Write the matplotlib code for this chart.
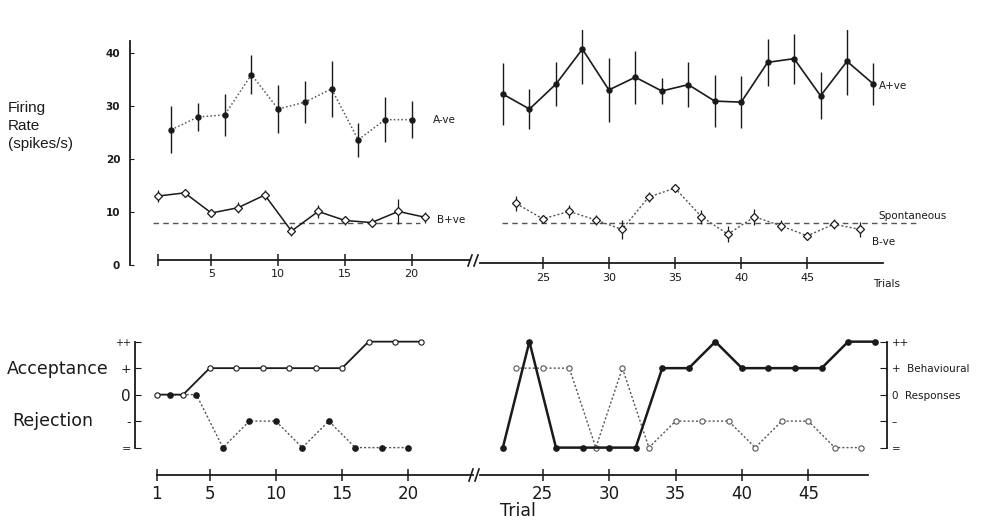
import matplotlib
matplotlib.use("Agg")
import matplotlib.pyplot as plt
from matplotlib.lines import Line2D

# ---------------- data ----------------
# Top: firing rate (spikes/s)
a_neg_trials = [2, 4, 6, 8, 10, 12, 14, 16, 18, 20]
a_neg_rate = [25.5, 27.9, 28.3, 35.9, 29.4, 30.7, 33.2, 23.6, 27.4, 27.4]
a_neg_err = [4.4, 2.7, 4.0, 3.6, 4.5, 4.0, 5.3, 3.2, 4.2, 3.5]

b_pos_trials = [1, 3, 5, 7, 9, 11, 13, 15, 17, 19, 21]
b_pos_rate = [13.0, 13.6, 9.8, 10.8, 13.2, 6.4, 10.1, 8.4, 8.0, 10.1, 9.0]
b_pos_err = [1.2, 0.8, 0.8, 1.0, 1.0, 1.0, 1.2, 0.8, 0.8, 2.3, 1.0]

a_pos_trials = [22, 24, 26, 28, 30, 32, 34, 36, 38, 40, 42, 44, 46, 48, 50]
a_pos_rate = [32.2, 29.4, 34.1, 40.7, 33.0, 35.4, 32.8, 34.0, 30.9, 30.7,
              38.2, 38.9, 31.9, 38.4, 34.1]
a_pos_err = [5.8, 3.8, 4.1, 6.6, 6.1, 5.0, 2.4, 4.3, 4.9, 4.9, 4.4, 4.7, 4.4, 6.3, 4.0]

b_neg_trials = [23, 25, 27, 29, 31, 33, 35, 37, 39, 41, 43, 45, 47, 49]
b_neg_rate = [11.6, 8.7, 10.1, 8.5, 6.7, 12.8, 14.5, 9.1, 5.8, 9.1, 7.4, 5.5, 7.7, 6.7]
b_neg_err = [1.5, 0.8, 1.2, 1.0, 1.8, 1.0, 0.8, 1.3, 1.5, 1.5, 1.0, 0.8, 1.0, 1.5]

spontaneous_rate = 8.0

# Bottom: behavioural responses (++ = 2, + = 1, 0 = 0, - = -1, = = -2)
beh_levels = [-2, -1, 0, 1, 2]
beh_labels = ["=", "-", "0", "+", "++"]
beh_b_pos = [0, 0, 1, 1, 1, 1, 1, 1, 2, 2, 2]            # odd trials 1..21
beh_a_neg = [0, 0, -2, -1, -1, -2, -1, -2, -2, -2]        # even trials 2..20
beh_a_pos = [-2, 2, -2, -2, -2, -2, 1, 1, 2, 1, 1, 1, 1, 2, 2]  # even 22..50
beh_b_neg = [1, 1, 1, -2, 1, -2, -1, -1, -1, -2, -1, -1, -2, -2]  # odd 23..49

left_ticks = [1, 5, 10, 15, 20]
right_ticks = [25, 30, 35, 40, 45]
rate_ticks = [0, 10, 20, 30, 40]

# ---------------- figure ----------------
W, H = 982, 524
fig = plt.figure(figsize=(W / 100, H / 100), dpi=100)
fig.patch.set_facecolor("white")
INK = "#1a1a1a"
GREY = "#555555"


def box(x0, y0, x1, y1):
    return [x0 / W, 1 - y1 / H, (x1 - x0) / W, (y1 - y0) / H]


def strip(ax):
    for s in ax.spines.values():
        s.set_visible(False)
    ax.set_facecolor("none")


def fig_line(x0, y0, x1, y1, lw=1.2):
    fig.add_artist(Line2D([x0 / W, x1 / W], [1 - y0 / H, 1 - y1 / H],
                          transform=fig.transFigure, color=INK, lw=lw))


# ---- top left ----
ax1 = fig.add_axes(box(125, 30, 480, 270))
strip(ax1)
ax1.set_xlim(-1.47, 25.12)
ax1.set_ylim(-0.94, 44.3)
ax1.spines["left"].set_visible(True)
ax1.spines["left"].set_position(("data", -1.1))
ax1.spines["left"].set_bounds(0, 42.2)
ax1.spines["bottom"].set_visible(True)
ax1.spines["bottom"].set_position(("data", 1.0))
ax1.spines["bottom"].set_bounds(1, 24.4)
for s in ("left", "bottom"):
    ax1.spines[s].set_color(INK)
    ax1.spines[s].set_linewidth(1.3)
ax1.set_yticks(rate_ticks)
ax1.set_yticklabels([str(v) for v in rate_ticks], fontsize=7.5, fontweight="bold", color=INK)
ax1.tick_params(axis="y", direction="in", length=3, pad=7, color=INK)
ax1.set_xticks(left_ticks)
ax1.set_xticklabels([""] + [str(v) for v in left_ticks[1:]], fontsize=8, color=INK)
ax1.tick_params(axis="x", direction="inout", length=8, pad=3, color=INK, width=1.1)

ax1.errorbar(a_neg_trials, a_neg_rate, yerr=a_neg_err, fmt="o", ms=3.6, color=INK,
             ecolor=INK, elinewidth=1.0, capsize=0, zorder=3)
ax1.plot(a_neg_trials, a_neg_rate, ls=(0, (1, 1.5)), color=GREY, lw=1.1, zorder=2)
ax1.errorbar(b_pos_trials, b_pos_rate, yerr=b_pos_err, fmt="none", ecolor=INK,
             elinewidth=0.9, capsize=0, zorder=3)
ax1.plot(b_pos_trials, b_pos_rate, "-", marker="D", ms=4, mfc="white", mec=INK,
         mew=0.9, color=INK, lw=1.1, zorder=4)
ax1.hlines(spontaneous_rate, 0.6, 20.6, colors=GREY, linestyles=(0, (4, 3)), lw=1.0)
ax1.text(21.6, 27.4, "A-ve", fontsize=7.5, va="center", color=INK)
ax1.text(21.9, 8.4, "B+ve", fontsize=7.5, va="center", color=INK)

# ---- top right ----
ax2 = fig.add_axes(box(480, 30, 960, 270))
strip(ax2)
ax2.set_xlim(20.26, 56.54)
ax2.set_ylim(-0.94, 44.3)
ax2.spines["bottom"].set_visible(True)
ax2.spines["bottom"].set_position(("data", 0.3))
ax2.spines["bottom"].set_bounds(20.26, 50.7)
ax2.spines["bottom"].set_color(INK)
ax2.spines["bottom"].set_linewidth(1.3)
ax2.set_yticks([])
ax2.set_xticks(right_ticks)
ax2.set_xticklabels([str(v) for v in right_ticks], fontsize=8, color=INK)
ax2.tick_params(axis="x", direction="inout", length=8, pad=3, color=INK, width=1.1)

ax2.errorbar(a_pos_trials, a_pos_rate, yerr=a_pos_err, fmt="-o", ms=3.6, color=INK,
             ecolor=INK, elinewidth=1.0, lw=1.2, capsize=0, zorder=3)
ax2.errorbar(b_neg_trials, b_neg_rate, yerr=b_neg_err, fmt="none", ecolor=INK,
             elinewidth=0.9, capsize=0, zorder=3)
ax2.plot(b_neg_trials, b_neg_rate, ls=(0, (1.5, 1.5)), marker="D", ms=4, mfc="white",
         mec=INK, mew=0.9, color=GREY, lw=1.0, zorder=4)
ax2.hlines(spontaneous_rate, 21.95, 53.5, colors=GREY, linestyles=(0, (4, 3)), lw=1.0)
ax2.text(50.4, 33.8, "A+ve", fontsize=7.5, va="center", color=INK)
ax2.text(50.4, 9.3, "Spontaneous", fontsize=7.5, va="center", color=INK)
ax2.text(49.9, 4.3, "B-ve", fontsize=7.5, va="center", color=INK)
ax2.text(50.0, -3.5, "Trials", fontsize=7.5, va="center", color=INK)

# ---- bottom left ----
ax3 = fig.add_axes(box(120, 330, 480, 490))
strip(ax3)
ax3.set_xlim(-1.77, 25.42)
ax3.set_ylim(-3.6, 2.44)
ax3.spines["left"].set_visible(True)
ax3.spines["left"].set_position(("data", -0.64))
ax3.spines["left"].set_bounds(-2, 2)
ax3.spines["bottom"].set_visible(True)
ax3.spines["bottom"].set_position(("data", -3.05))
ax3.spines["bottom"].set_bounds(1, 24.9)
for s in ("left", "bottom"):
    ax3.spines[s].set_color(INK)
    ax3.spines[s].set_linewidth(1.3)
ax3.set_yticks(beh_levels)
ax3.set_yticklabels(beh_labels, color=INK)
for lab, fs in zip(ax3.get_yticklabels(), [8, 9, 11, 9, 7]):
    lab.set_fontsize(fs)
ax3.tick_params(axis="y", direction="in", length=4, pad=3, color=INK)
ax3.set_xticks(left_ticks)
ax3.set_xticklabels([str(v) for v in left_ticks], fontsize=12, color=INK)
ax3.tick_params(axis="x", direction="inout", length=8, pad=3, color=INK, width=1.1)

ax3.plot(a_neg_trials, beh_a_neg, ls=(0, (1.5, 1.5)), color=GREY, lw=1.0,
         marker="o", ms=3.8, mfc=INK, mec=INK, zorder=3)
ax3.plot(b_pos_trials, beh_b_pos, "-", color=INK, lw=1.3,
         marker="o", ms=3.8, mfc="white", mec=INK, mew=0.8, zorder=4)

fig.text(7 / W, 1 - 369 / H, "Acceptance", fontsize=12.5, va="center", ha="left", color=INK)
fig.text(12 / W, 1 - 421 / H, "Rejection", fontsize=12.5, va="center", ha="left", color=INK)

# ---- bottom right ----
ax4 = fig.add_axes(box(480, 330, 960, 490))
strip(ax4)
ax4.set_xlim(20.28, 56.42)
ax4.set_ylim(-3.6, 2.44)
ax4.spines["right"].set_visible(True)
ax4.spines["right"].set_position(("data", 50.95))
ax4.spines["right"].set_bounds(-2, 2)
ax4.spines["bottom"].set_visible(True)
ax4.spines["bottom"].set_position(("data", -3.05))
ax4.spines["bottom"].set_bounds(20.28, 49.5)
for s in ("right", "bottom"):
    ax4.spines[s].set_color(INK)
    ax4.spines[s].set_linewidth(1.3)
ax4.yaxis.tick_right()
ax4.set_yticks(beh_levels)
ax4.set_yticklabels(["=", "\u2013", "0  Responses", "+  Behavioural", "++"], color=INK)
for lab in ax4.get_yticklabels():
    lab.set_fontsize(7.5)
ax4.tick_params(axis="y", direction="in", length=5, pad=3, color=INK)
ax4.set_xticks(right_ticks)
ax4.set_xticklabels([str(v) for v in right_ticks], fontsize=12, color=INK)
ax4.tick_params(axis="x", direction="inout", length=8, pad=3, color=INK, width=1.1)

ax4.plot(b_neg_trials, beh_b_neg, ls=(0, (1.5, 1.5)), color=GREY, lw=1.0,
         marker="o", ms=3.8, mfc="white", mec=GREY, mew=0.8, zorder=3)
ax4.plot(a_pos_trials, beh_a_pos, "-", color=INK, lw=1.8,
         marker="o", ms=3.8, mfc=INK, mec=INK, zorder=4)

fig.text(518 / W, 1 - 511 / H, "Trial", fontsize=12.5, va="center", ha="center", color=INK)

# y label
fig.text(8 / W, 1 - 126 / H, "Firing\nRate\n(spikes/s)", fontsize=11,
         family=["Liberation Sans", "DejaVu Sans"], va="center", ha="left",
         linespacing=1.35, color=INK)

# axis break marks
fig_line(468, 266, 472, 255)
fig_line(474, 266, 478, 255)
fig_line(469, 481, 473, 469)
fig_line(475, 481, 479, 469)

fig.savefig("out.png", dpi=100, facecolor="white")
